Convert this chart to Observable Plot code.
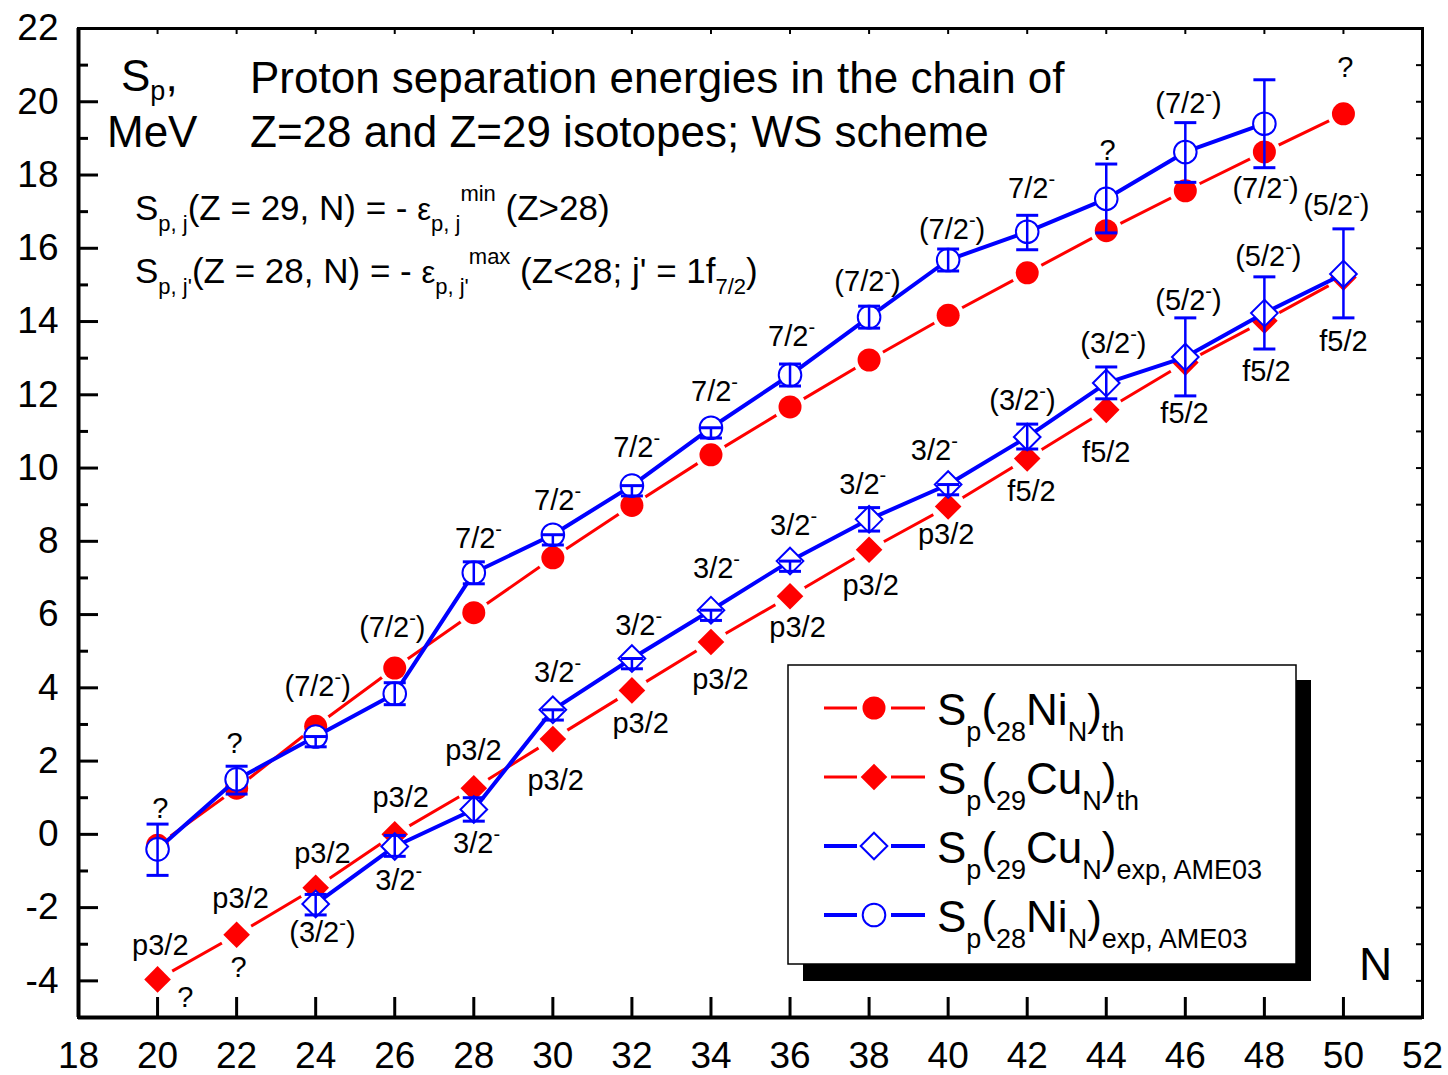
<!DOCTYPE html>
<html><head><meta charset="utf-8">
<script src="https://cdn.jsdelivr.net/npm/d3@7"></script>
<script src="https://cdn.jsdelivr.net/npm/@observablehq/plot@0.6"></script>
<style>
body{margin:0;background:#fff}
svg{font-family:"Liberation Sans",Arial,Helvetica,sans-serif}
</style>
</head><body><div id="chart"></div>
<script>
// ---------- data ----------
const thN = [20,22,24,26,28,30,32,34,36,38,40,42,44,46,48,50];
const niTh = [-0.3,1.26,2.95,4.54,6.05,7.55,8.98,10.36,11.67,12.95,14.17,15.33,16.48,17.57,18.63,19.67];
const cuTh = [-3.96,-2.74,-1.46,0.0,1.26,2.6,3.93,5.25,6.5,7.77,8.95,10.26,11.59,12.88,14.02,15.2];

const cuExpN  = [24,26,28,30,32,34,36,38,40,42,44,46,48,50];
const cuExp   = [-1.9,-0.33,0.68,3.4,4.8,6.12,7.46,8.6,9.55,10.85,12.32,13.03,14.23,15.3];
const cuExpLo = [-2.2,-0.6,0.36,3.12,4.52,5.84,7.18,8.28,9.27,10.52,11.89,11.97,13.25,14.1];
const cuExpHi = [-1.64,-0.03,1.0,3.4,4.8,6.12,7.46,8.92,9.55,11.2,12.76,14.1,15.22,16.53];

const niExpN  = [20,22,24,26,28,30,32,34,36,38,40,42,44,46,48];
const niExp   = [-0.41,1.5,2.67,3.84,7.14,8.18,9.52,11.1,12.54,14.12,15.68,16.45,17.35,18.63,19.4];
const niExpLo = [-1.12,1.1,2.39,3.54,6.84,7.9,9.24,10.82,12.24,13.82,15.38,15.96,16.42,17.8,18.2];
const niExpHi = [0.28,1.86,2.67,4.14,7.44,8.18,9.52,11.1,12.84,14.42,15.98,16.9,18.3,19.43,20.6];

const xTickLabels = [18,20,22,24,26,28,30,32,34,36,38,40,42,44,46,48,50,52];
const yTickLabels = [-4,-2,0,2,4,6,8,10,12,14,16,18,20,22];

// annotation labels (text, N, MeV)
const labelText = ["?","?","(7/2⁻)","(7/2⁻)","7/2⁻","7/2⁻","7/2⁻","7/2⁻","7/2⁻","(7/2⁻)","(7/2⁻)","7/2⁻","?","(7/2⁻)","(7/2⁻)","?",
  "p3/2","?","p3/2","?","p3/2","(3/2⁻)","p3/2","3/2⁻","p3/2","3/2⁻","3/2⁻","p3/2","3/2⁻","p3/2","3/2⁻","p3/2",
  "3/2⁻","p3/2","3/2⁻","p3/2","3/2⁻","p3/2","(3/2⁻)","f5/2","(3/2⁻)","f5/2","(5/2⁻)","f5/2","(5/2⁻)","f5/2","(5/2⁻)","f5/2"];
const labelN = [20.07,21.95,24.05,25.94,28.12,30.12,32.12,34.09,36.04,37.96,40.1,42.11,44.03,46.08,48.03,50.05,
  20.07,20.7,22.1,22.05,24.17,24.17,26.15,26.1,27.99,28.07,30.12,30.07,32.17,32.22,34.14,34.24,
  36.09,36.19,37.84,38.04,39.65,39.95,41.88,42.11,44.18,44.0,46.08,45.98,48.1,48.05,49.82,50.0];
const labelE = [0.71,2.48,4.04,5.65,8.08,9.12,10.56,12.09,13.59,15.09,16.51,17.63,18.67,19.94,17.63,20.94,
  -3.05,-4.45,-1.75,-3.63,-0.52,-2.68,1.0,-1.26,2.29,-0.25,4.42,1.47,5.7,3.03,7.26,4.23,
  8.43,5.65,9.55,6.8,10.48,8.19,11.84,9.36,13.4,10.42,14.58,11.49,15.78,12.64,17.15,13.46];

// ---------- build tables ----------
const niThData = thN.map((n,i)=>({N:n,E:niTh[i]}));
const cuThData = thN.map((n,i)=>({N:n,E:cuTh[i]}));
const cuExpData = cuExpN.map((n,i)=>({N:n,E:cuExp[i],lo:cuExpLo[i],hi:cuExpHi[i]}));
const niExpData = niExpN.map((n,i)=>({N:n,E:niExp[i],lo:niExpLo[i],hi:niExpHi[i]}));
const labels = labelText.map((t,i)=>({t,N:labelN[i],E:labelE[i]}));

const W=1448,H=1075, ML=78, MR=26, MT=28, MB=58;
const PW=W-ML-MR, PH=H-MT-MB;
const RED="#ff0000", BLUE="#0000ff";
const capSym = {draw(ctx,size){const r=Math.sqrt(size/Math.PI); ctx.moveTo(-r,0); ctx.lineTo(r,0);}};

const chart = Plot.plot({
  width:W, height:H, marginLeft:ML, marginRight:MR, marginTop:MT, marginBottom:MB,
  x:{domain:[18,52], label:null},
  y:{domain:[-5,22], label:null},
  style:{fontFamily:'"Liberation Sans",Arial,sans-serif', color:"#000", background:"#fff"},
  marks:[
    Plot.tickY(yTickLabels,{y:d=>d, insetRight:PW-20, stroke:"#000", strokeWidth:3}),
    Plot.tickY(d3.range(-5,22,2),{y:d=>d, insetRight:PW-10, stroke:"#000", strokeWidth:3}),
    Plot.tickY(d3.range(-5,23,1),{y:d=>d, insetLeft:PW-6, stroke:"#000", strokeWidth:2}),
    Plot.tickX(xTickLabels,{x:d=>d, insetTop:PH-20, stroke:"#000", strokeWidth:3}),
    Plot.tickX(xTickLabels,{x:d=>d, insetBottom:PH-6, stroke:"#000", strokeWidth:2}),
    Plot.frame({stroke:"#000", strokeWidth:3}),
    Plot.ruleX([18],{stroke:"#000", strokeWidth:4}),
    Plot.ruleY([-5],{stroke:"#000", strokeWidth:4}),
    Plot.axisY({ticks:yTickLabels, tickSize:0, tickPadding:20, fontSize:37, label:null, tickFormat:d=>String(d)}),
    Plot.axisX({ticks:xTickLabels, tickSize:0, tickPadding:24, fontSize:37, label:null, tickFormat:d=>String(d)}),

    // Ni theory
    Plot.line(niThData,{x:"N",y:"E",stroke:RED,strokeWidth:3}),
    Plot.dot(niThData,{x:"N",y:"E",r:16,fill:"#fff",stroke:null}),
    Plot.dot(niThData,{x:"N",y:"E",r:11.5,fill:RED,stroke:null}),
    // Cu theory
    Plot.line(cuThData,{x:"N",y:"E",stroke:RED,strokeWidth:3}),
    Plot.dot(cuThData,{x:"N",y:"E",r:17,fill:"#fff",stroke:null}),
    Plot.dot(cuThData,{x:"N",y:"E",r:12,symbol:"diamond2",fill:RED,stroke:null}),
    // Cu exp
    Plot.line(cuExpData,{x:"N",y:"E",stroke:BLUE,strokeWidth:4}),
    Plot.dot(cuExpData,{x:"N",y:"E",r:12,symbol:"diamond2",fill:"#fff",stroke:BLUE,strokeWidth:2}),
    Plot.ruleX(cuExpData,{x:"N",y1:"lo",y2:"hi",stroke:BLUE,strokeWidth:2.5}),
    Plot.dot(cuExpData,{x:"N",y:"lo",r:11,symbol:capSym,fill:"none",stroke:BLUE,strokeWidth:3}),
    Plot.dot(cuExpData,{x:"N",y:"hi",r:11,symbol:capSym,fill:"none",stroke:BLUE,strokeWidth:3}),
    // Ni exp
    Plot.line(niExpData,{x:"N",y:"E",stroke:BLUE,strokeWidth:4}),
    Plot.dot(niExpData,{x:"N",y:"E",r:11.3,fill:"#fff",stroke:BLUE,strokeWidth:2}),
    Plot.ruleX(niExpData,{x:"N",y1:"lo",y2:"hi",stroke:BLUE,strokeWidth:2.5}),
    Plot.dot(niExpData,{x:"N",y:"lo",r:11,symbol:capSym,fill:"none",stroke:BLUE,strokeWidth:3}),
    Plot.dot(niExpData,{x:"N",y:"hi",r:11,symbol:capSym,fill:"none",stroke:BLUE,strokeWidth:3}),

    // annotations
    Plot.text(labels,{x:"N",y:"E",text:"t",fontSize:29,fill:"#000"}),
    Plot.text(["N"],{frameAnchor:"bottom-right",dx:-47,dy:-52,fontSize:46,fill:"#000",textAnchor:"middle",lineAnchor:"middle"})
  ]
});
document.getElementById("chart").appendChild(chart);

const svg = d3.select(chart);

// superscript minus in spin labels
svg.selectAll("text").each(function(){
  const s = this.textContent;
  if (!s.includes("⁻") || this.children.length) return;
  const [a,b] = s.split("⁻");
  const t = d3.select(this); t.text(null);
  t.append("tspan").text(a);
  t.append("tspan").attr("dy",-12).attr("font-size","20px").text("-");
  if (b) t.append("tspan").attr("dy",12).text(b);
});

// rich text helper: parts = [string, baselineOffset, fontSize]
function rich(x,y,parts){
  const t = svg.append("text").attr("x",x).attr("y",y).attr("fill","#000")
    .attr("text-anchor","start").style("white-space","pre");
  let cur=0;
  for (const [s,off,fs] of parts){
    t.append("tspan").attr("dy",off-cur).attr("font-size",fs).text(s);
    cur=off;
  }
  return t;
}

// axis title top-left
rich(121,91,[["S",0,44],["p",9,27],[",",0,44]]);
rich(107,147,[["MeV",0,44]]);
// title
rich(250,93,[["Proton separation energies in the chain of",0,44]]);
rich(250,147,[["Z=28 and Z=29 isotopes; WS scheme",0,44]]);
// formulas
rich(135,220,[["S",0,35],["p, j",11,22],["(Z = 29, N) = - ",0,35],["ε",0,31],["p, j",11,22],["min",-19,22],[" (Z>28)",0,35]]);
rich(135,283,[["S",0,35],["p, j'",11,22],["(Z = 28, N) = - ",0,35],["ε",0,31],["p, j'",11,22],["max",-19,22],[" (Z<28; j' = 1f",0,35],["7/2",11,22],[")",0,35]]);

// legend
const lg = svg.append("g");
lg.append("rect").attr("x",803).attr("y",680).attr("width",508).attr("height",301).attr("fill","#000");
lg.append("rect").attr("x",788).attr("y",665).attr("width",508).attr("height",299).attr("fill","#fff").attr("stroke","#000").attr("stroke-width",1.5);
const legendRows = [
  {color:RED, sw:3, sym:d3.symbolCircle, r:11.5, fill:RED, parts:[["S",0,44],["p",16,27],["(",0,44],["28",16,27],["Ni",0,44],["N",16,27],[")",0,44],["th",16,27]]},
  {color:RED, sw:3, sym:d3.symbolDiamond2, r:12, fill:RED, parts:[["S",0,44],["p",16,27],["(",0,44],["29",16,27],["Cu",0,44],["N",16,27],[")",0,44],["th",16,27]]},
  {color:BLUE, sw:4, sym:d3.symbolDiamond2, r:12, fill:"#fff", parts:[["S",0,44],["p",16,27],["(",0,44],["29",16,27],["Cu",0,44],["N",16,27],[")",0,44],["exp, AME03",16,27]]},
  {color:BLUE, sw:4, sym:d3.symbolCircle, r:11.3, fill:"#fff", parts:[["S",0,44],["p",16,27],["(",0,44],["28",16,27],["Ni",0,44],["N",16,27],[")",0,44],["exp, AME03",16,27]]}
];
legendRows.forEach((row,i)=>{
  const cy = 708 + i*69;
  lg.append("line").attr("x1",824).attr("x2",857).attr("y1",cy).attr("y2",cy).attr("stroke",row.color).attr("stroke-width",row.sw);
  lg.append("line").attr("x1",891).attr("x2",925).attr("y1",cy).attr("y2",cy).attr("stroke",row.color).attr("stroke-width",row.sw);
  lg.append("path").attr("transform",`translate(874,${cy})`)
    .attr("d",d3.symbol(row.sym,Math.PI*row.r*row.r)())
    .attr("fill",row.fill).attr("stroke",row.fill==="#fff"?row.color:"none").attr("stroke-width",2);
  rich(937, cy+17, row.parts);
});
</script>
</body></html>
